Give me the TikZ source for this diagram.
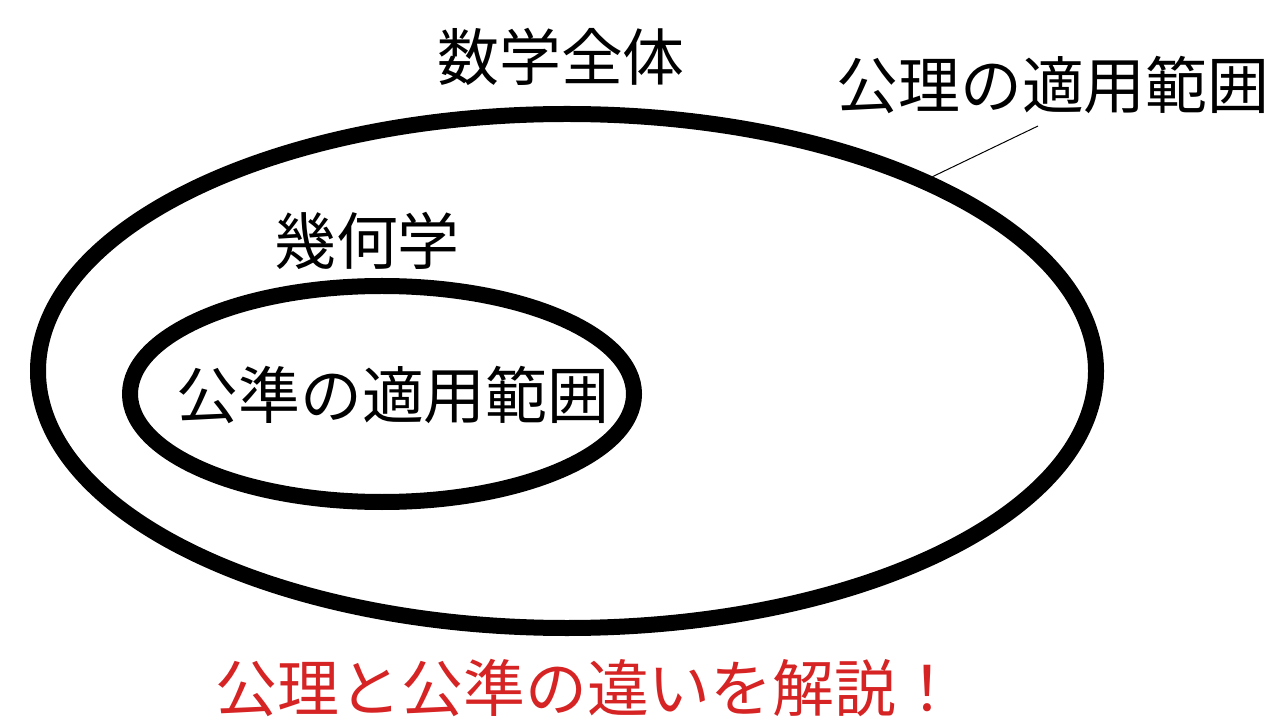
\documentclass[tikz,border=0pt]{standalone}
\usepackage{fontspec}
\setmainfont{Noto Sans CJK JP}
\usetikzlibrary{shapes.geometric}
\definecolor{titlered}{RGB}{214,36,36}
\begin{document}
\begin{tikzpicture}[x=0.025cm,y=-0.025cm,lbl/.style={font=\fontsize{44}{50}\selectfont,inner sep=0pt},oval/.style={ellipse,draw,inner sep=0pt,line width=16*0.025cm}]
\useasboundingbox[fill=white] (0,0) rectangle (1280,720);
\node[oval,minimum width=1058*0.025cm,minimum height=514*0.025cm] (whole) at (567,371) {};
\node[oval,minimum width=504*0.025cm,minimum height=216*0.025cm] (geo) at (382,394) {};
\node[lbl] (mathall) at (561,57) {数学全体};
\node[lbl] (axiom) at (1053,85) {公理の適用範囲};
\node[lbl] (geolbl) at (367,241) {幾何学};
\node[lbl] (postulate) at (393,395) {公準の適用範囲};
\node[lbl,text=titlered] (title) at (587,688) {公理と公準の違いを解説！};
\coordinate (tip) at (1038,126);
\draw[line width=0.7pt] (whole.28) -- (tip);
\end{tikzpicture}
\end{document}
